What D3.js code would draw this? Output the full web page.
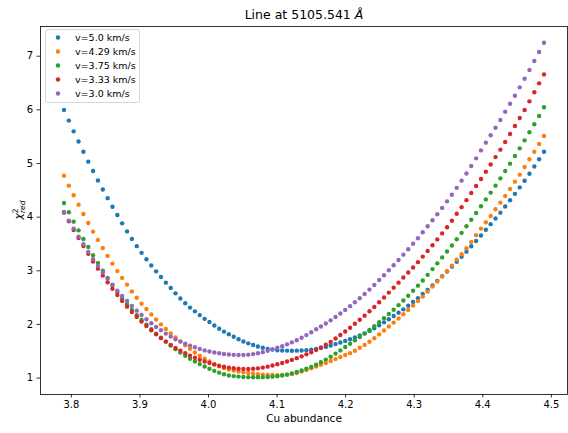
<!DOCTYPE html>
<html>
<head>
<meta charset="utf-8">
<script src="https://cdn.jsdelivr.net/npm/d3@7"></script>
<style>
  body { margin: 0; background: #fff; }
  svg { display: block; }
  text { font-family: "DejaVu Sans", sans-serif; fill: #000; }
</style>
</head>
<body>
<div id="chart"></div>
<script>
// Cu abundance grid (100 steps from 3.79 to 4.49)
const abundance = [
  3.7900, 3.7971, 3.8041, 3.8112, 3.8183, 3.8254, 3.8324, 3.8395, 3.8466, 3.8536,
  3.8607, 3.8678, 3.8748, 3.8819, 3.8890, 3.8961, 3.9031, 3.9102, 3.9173, 3.9243,
  3.9314, 3.9385, 3.9456, 3.9526, 3.9597, 3.9668, 3.9738, 3.9809, 3.9880, 3.9951,
  4.0021, 4.0092, 4.0163, 4.0233, 4.0304, 4.0375, 4.0445, 4.0516, 4.0587, 4.0658,
  4.0728, 4.0799, 4.0870, 4.0940, 4.1011, 4.1082, 4.1153, 4.1223, 4.1294, 4.1365,
  4.1435, 4.1506, 4.1577, 4.1647, 4.1718, 4.1789, 4.1860, 4.1930, 4.2001, 4.2072,
  4.2142, 4.2213, 4.2284, 4.2355, 4.2425, 4.2496, 4.2567, 4.2637, 4.2708, 4.2779,
  4.2849, 4.2920, 4.2991, 4.3062, 4.3132, 4.3203, 4.3274, 4.3344, 4.3415, 4.3486,
  4.3557, 4.3627, 4.3698, 4.3769, 4.3839, 4.3910, 4.3981, 4.4052, 4.4122, 4.4193,
  4.4264, 4.4334, 4.4405, 4.4476, 4.4546, 4.4617, 4.4688, 4.4759, 4.4829, 4.4900
];

// reduced chi-square per microturbulence value
const chi2V50 = [
  5.99, 5.79, 5.59, 5.40, 5.21, 5.025, 4.85, 4.675, 4.505, 4.345,
  4.185, 4.03, 3.875, 3.725, 3.585, 3.45, 3.325, 3.205, 3.09, 2.98,
  2.875, 2.77, 2.67, 2.57, 2.475, 2.385, 2.305, 2.235, 2.165, 2.095,
  2.035, 1.972, 1.91, 1.857, 1.808, 1.76, 1.715, 1.673, 1.638, 1.607,
  1.579, 1.555, 1.536, 1.522, 1.511, 1.505, 1.502, 1.501, 1.502, 1.505,
  1.51, 1.519, 1.532, 1.55, 1.572, 1.597, 1.624, 1.653, 1.684, 1.716,
  1.75, 1.786, 1.825, 1.87, 1.92, 1.975, 2.03, 2.087, 2.148, 2.21,
  2.272, 2.34, 2.41, 2.48, 2.557, 2.635, 2.718, 2.803, 2.89, 2.978,
  3.068, 3.158, 3.252, 3.348, 3.447, 3.547, 3.65, 3.755, 3.86, 3.966,
  4.075, 4.19, 4.306, 4.425, 4.545, 4.67, 4.80, 4.935, 5.07, 5.21
];
const chi2V429 = [
  4.764, 4.578, 4.398, 4.224, 4.05, 3.882, 3.721, 3.567, 3.415, 3.268,
  3.125, 2.985, 2.858, 2.733, 2.605, 2.488, 2.378, 2.278, 2.178, 2.082,
  1.992, 1.906, 1.825, 1.746, 1.676, 1.604, 1.536, 1.468, 1.406, 1.350,
  1.300, 1.252, 1.210, 1.176, 1.150, 1.130, 1.114, 1.100, 1.087, 1.075,
  1.064, 1.056, 1.050, 1.047, 1.046, 1.048, 1.054, 1.066, 1.086, 1.112,
  1.142, 1.172, 1.205, 1.238, 1.272, 1.308, 1.345, 1.383, 1.42, 1.456,
  1.500, 1.555, 1.609, 1.668, 1.735, 1.806, 1.878, 1.952, 2.025, 2.102,
  2.18, 2.261, 2.342, 2.427, 2.51, 2.602, 2.696, 2.789, 2.883, 2.982,
  3.087, 3.198, 3.30, 3.41, 3.528, 3.655, 3.777, 3.895, 4.013, 4.137,
  4.261, 4.385, 4.516, 4.652, 4.783, 4.926, 5.069, 5.211, 5.354, 5.503
];
const chi2V375 = [
  4.255, 4.081, 3.907, 3.745, 3.584, 3.435, 3.28, 3.137, 2.994, 2.857,
  2.724, 2.597, 2.476, 2.367, 2.261, 2.162, 2.073, 1.985, 1.901, 1.820,
  1.745, 1.671, 1.598, 1.530, 1.468, 1.408, 1.352, 1.300, 1.252, 1.207,
  1.165, 1.126, 1.092, 1.062, 1.040, 1.028, 1.019, 1.012, 1.008, 1.006,
  1.006, 1.008, 1.012, 1.018, 1.027, 1.04, 1.056, 1.078, 1.105, 1.133,
  1.165, 1.2, 1.24, 1.285, 1.335, 1.39, 1.447, 1.507, 1.57, 1.632,
  1.694, 1.756, 1.82, 1.888, 1.957, 2.031, 2.106, 2.185, 2.265, 2.35,
  2.437, 2.526, 2.619, 2.714, 2.81, 2.915, 3.022, 3.13, 3.24, 3.35,
  3.462, 3.578, 3.698, 3.82, 3.942, 4.068, 4.193, 4.322, 4.448, 4.578,
  4.714, 4.851, 4.988, 5.13, 5.273, 5.422, 5.572, 5.722, 5.876, 6.038
];
const chi2V333 = [
  4.075, 3.913, 3.752, 3.603, 3.454, 3.307, 3.165, 3.031, 2.901, 2.776,
  2.656, 2.54, 2.43, 2.322, 2.222, 2.131, 2.044, 1.963, 1.882, 1.808,
  1.735, 1.671, 1.609, 1.553, 1.503, 1.454, 1.41, 1.369, 1.332, 1.30,
  1.272, 1.245, 1.222, 1.202, 1.186, 1.174, 1.166, 1.162, 1.161, 1.164,
  1.172, 1.186, 1.204, 1.225, 1.248, 1.273, 1.30, 1.33, 1.362, 1.396,
  1.433, 1.472, 1.515, 1.562, 1.612, 1.665, 1.728, 1.793, 1.86, 1.93,
  2.003, 2.078, 2.155, 2.236, 2.317, 2.405, 2.494, 2.584, 2.677, 2.77,
  2.865, 2.958, 3.053, 3.152, 3.255, 3.36, 3.466, 3.576, 3.688, 3.802,
  3.925, 4.053, 4.177, 4.308, 4.441, 4.572, 4.702, 4.836, 4.972, 5.11,
  5.249, 5.391, 5.541, 5.689, 5.839, 5.988, 6.149, 6.318, 6.485, 6.652
];
const chi2V30 = [
  4.087, 3.925, 3.776, 3.627, 3.485, 3.342, 3.205, 3.081, 2.963, 2.845,
  2.733, 2.621, 2.522, 2.429, 2.336, 2.248, 2.168, 2.087, 2.013, 1.944,
  1.882, 1.82, 1.764, 1.714, 1.671, 1.634, 1.596, 1.565, 1.535, 1.507,
  1.487, 1.469, 1.454, 1.441, 1.43, 1.424, 1.422, 1.423, 1.428, 1.438,
  1.453, 1.474, 1.50, 1.528, 1.556, 1.586, 1.62, 1.657, 1.697, 1.742,
  1.792, 1.845, 1.90, 1.952, 2.007, 2.067, 2.13, 2.195, 2.262, 2.332,
  2.404, 2.48, 2.559, 2.64, 2.727, 2.818, 2.908, 3.0, 3.094, 3.193,
  3.292, 3.392, 3.496, 3.598, 3.708, 3.82, 3.932, 4.045, 4.163, 4.285,
  4.408, 4.537, 4.671, 4.805, 4.944, 5.087, 5.235, 5.379, 5.517, 5.658,
  5.803, 5.955, 6.105, 6.255, 6.41, 6.571, 6.733, 6.90, 7.068, 7.242
];

const velocityLabels = ["v=5.0 km/s", "v=4.29 km/s", "v=3.75 km/s", "v=3.33 km/s", "v=3.0 km/s"];
const seriesColors = ["#1f77b4", "#ff7f0e", "#2ca02c", "#d62728", "#9467bd"];
const xTicks = [3.8, 3.9, 4.0, 4.1, 4.2, 4.3, 4.4, 4.5];
const yTicks = [1, 2, 3, 4, 5, 6, 7];

const series = [chi2V50, chi2V429, chi2V375, chi2V333, chi2V30].map((vals, k) => ({
  label: velocityLabels[k],
  color: seriesColors[k],
  points: vals.map((v, i) => ({ x: abundance[i], y: v }))
}));

const W = 568, H = 433;
const plot = { left: 40, right: 568, top: 26, bottom: 394 };

// 5% autoscale margins around the data
const xMin = d3.min(abundance), xMax = d3.max(abundance);
const allY = series.flatMap(s => s.points.map(p => p.y));
const yMin = d3.min(allY), yMax = d3.max(allY);
const xPad = (xMax - xMin) * 0.05, yPad = (yMax - yMin) * 0.05;

const x = d3.scaleLinear().domain([xMin - xPad, xMax + xPad]).range([plot.left, plot.right]);
const y = d3.scaleLinear().domain([yMin - yPad, yMax + yPad]).range([plot.bottom, plot.top]);

const svg = d3.select("#chart").append("svg")
  .attr("width", W).attr("height", H)
  .style("background", "#fff");

// axes
const xAxis = svg.append("g")
  .attr("transform", `translate(0,${plot.bottom})`)
  .call(d3.axisBottom(x).tickValues(xTicks).tickFormat(d3.format(".1f"))
    .tickSizeInner(3.5).tickSizeOuter(0).tickPadding(3.5));
const yAxis = svg.append("g")
  .attr("transform", `translate(${plot.left},0)`)
  .call(d3.axisLeft(y).tickValues(yTicks).tickFormat(d3.format("d"))
    .tickSizeInner(3.5).tickSizeOuter(0).tickPadding(3.5));
[xAxis, yAxis].forEach(g => {
  g.select(".domain").remove();
  g.selectAll(".tick line").attr("stroke", "#000").attr("stroke-width", 0.8);
  g.selectAll(".tick text").attr("font-size", 10).attr("font-family", "DejaVu Sans").attr("fill", "#000");
});

// scatter points, drawn series by series
const marks = svg.append("g");
series.forEach(s => {
  marks.append("g").selectAll("circle")
    .data(s.points)
    .join("circle")
    .attr("cx", d => x(d.x))
    .attr("cy", d => y(d.y))
    .attr("r", 2.2)
    .attr("fill", s.color);
});

// frame
svg.append("rect")
  .attr("x", plot.left + 0.5).attr("y", plot.top + 0.5)
  .attr("width", plot.right - plot.left - 1).attr("height", plot.bottom - plot.top)
  .attr("fill", "none").attr("stroke", "#000").attr("stroke-width", 0.8);

// title
const title = svg.append("text")
  .attr("x", (plot.left + plot.right) / 2).attr("y", 19)
  .attr("text-anchor", "middle").attr("font-size", 12.5);
title.append("tspan").text("Line at 5105.541 ");
title.append("tspan").attr("font-style", "italic").text("Å");

// axis labels
svg.append("text")
  .attr("x", (plot.left + plot.right) / 2).attr("y", 422)
  .attr("text-anchor", "middle").attr("font-size", 10.5)
  .text("Cu abundance");

const yLab = svg.append("text")
  .attr("transform", `translate(22,${(plot.top + plot.bottom) / 2}) rotate(-90)`)
  .attr("text-anchor", "middle").attr("font-size", 10.5);
yLab.append("tspan").attr("font-style", "italic").text("χ");
yLab.append("tspan").attr("dy", -4.5).attr("font-size", 7.5).text("2");
yLab.append("tspan").attr("dx", -4.6).attr("dy", 7.5).attr("font-size", 7.5).attr("font-style", "italic").text("red");

// legend
const legend = svg.append("g").attr("transform", "translate(45.5,29.5)");
legend.append("rect")
  .attr("width", 94).attr("height", 73).attr("rx", 2.5)
  .attr("fill", "#fff").attr("fill-opacity", 0.8)
  .attr("stroke", "#cccccc").attr("stroke-width", 0.8);
series.forEach((s, k) => {
  const row = legend.append("g").attr("transform", `translate(0,${8 + k * 14})`);
  row.append("circle").attr("cx", 12.5).attr("cy", 0).attr("r", 2.2).attr("fill", s.color);
  row.append("text").attr("x", 29.5).attr("y", 3.5).attr("font-size", 9.5).text(s.label);
});
</script>
</body>
</html>
